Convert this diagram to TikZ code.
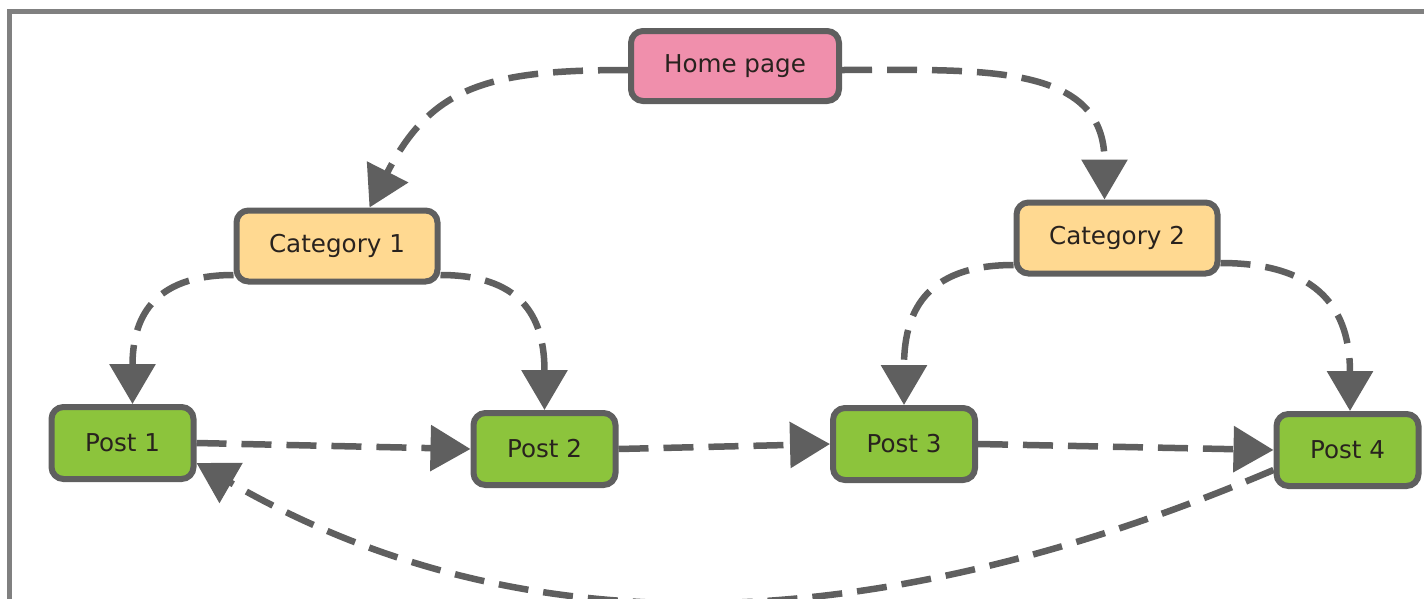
\documentclass[tikz,border=0pt]{standalone}
\usepackage{fontspec}
\setmainfont{DejaVu Sans}
\usepackage{tikz}
\usetikzlibrary{arrows.meta}

\definecolor{linegray}{RGB}{95,95,95}
\definecolor{framegray}{RGB}{128,128,128}
\definecolor{homepink}{RGB}{240,143,172}
\definecolor{catyellow}{RGB}{255,217,145}
\definecolor{postgreen}{RGB}{140,196,60}
\definecolor{textdark}{RGB}{40,34,30}

\begin{document}
\begin{tikzpicture}[
    box/.style={draw=linegray, line width=0.12cm, rounded corners=0.24cm,
      text=textdark, font=\fontsize{14}{16}\selectfont, inner sep=0pt},
    homebox/.style={box, fill=homepink, minimum width=4.16cm, minimum height=1.40cm},
    catbox/.style={box, fill=catyellow, minimum width=4.02cm, minimum height=1.42cm},
    postbox/.style={box, fill=postgreen, minimum width=2.84cm, minimum height=1.44cm},
    link/.style={draw=linegray, line width=0.13cm, dash pattern=on 0.6cm off 0.3cm,
      -{Triangle[length=0.8cm,width=0.9cm]}}
  ]
  \useasboundingbox (0,0) rectangle (28.48,-11.98);
  % frame
  \draw [framegray, line width=0.11cm] (0.19,-11.98) -- (0.19,-0.23) -- (28.48,-0.23);

  \node (home) at (14.70,-1.32)[homebox]{Home page};
  \node (cat1) at (6.74,-4.92)[catbox]{Category 1};
  \node (cat2) at (22.34,-4.76)[catbox]{Category 2};
  \node (post1) at (2.45,-8.86)[postbox]{Post 1};
  \node (post2) at (10.89,-8.98)[postbox]{Post 2};
  \node (post3) at (18.08,-8.88)[postbox]{Post 3};
  \node (post4) at (26.95,-9.00)[postbox]{Post 4};

  \draw [link] ([yshift=-0.08cm]home.west) to[out=180,in=63,looseness=1.2] ([xshift=0.65cm]cat1.north);
  \draw [link] ([yshift=-0.08cm]home.east) to[out=0,in=90,looseness=1.2] ([xshift=-0.25cm]cat2.north);
  \draw [link] ([yshift=-0.58cm]cat1.west) to[out=180,in=90,looseness=1.3] ([xshift=0.2cm]post1.north);
  \draw [link] ([yshift=-0.58cm]cat1.east) to[out=0,in=90,looseness=1.3] (post2.north);
  \draw [link] ([yshift=-0.54cm]cat2.west) to[out=180,in=90,looseness=1.3] (post3.north);
  \draw [link] ([yshift=-0.5cm]cat2.east) to[out=0,in=90,looseness=1.3] ([xshift=0.05cm]post4.north);
  \draw [link] (post1.east) -- (post2.west);
  \draw [link] (post2.east) -- (post3.west);
  \draw [link] (post3.east) -- (post4.west);
  \draw [link] ([yshift=-0.4cm]post4.west) to[out=203,in=-30,looseness=0.95] ([yshift=-0.4cm]post1.east);
\end{tikzpicture}
\end{document}
